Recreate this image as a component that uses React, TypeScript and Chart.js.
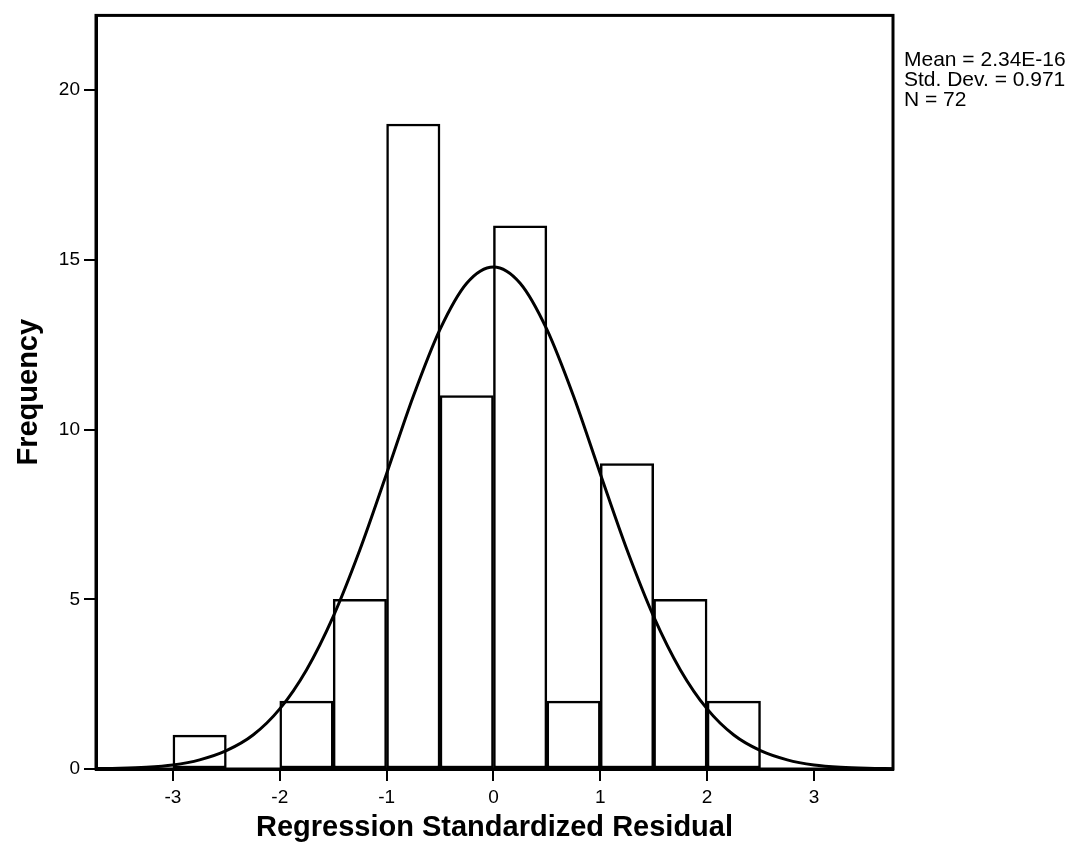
import React, { useEffect, useRef } from "react";
import { Chart, registerables } from "chart.js";

Chart.register(...registerables);

// Histogram bins (width 0.5) — centres and counts
const binCenters = [-2.75, -2.25, -1.75, -1.25, -0.75, -0.25, 0.25, 0.75, 1.25, 1.75, 2.25, 2.75];
const frequencies = [1, 0, 2, 5, 19, 11, 16, 2, 9, 5, 2, 0];

// Normal curve
const curveX = [-3.75, -3.5, -3.25, -3, -2.75, -2.5, -2.25, -2, -1.75, -1.5, -1.25, -1, -0.75, -0.5, -0.25, 0,
  0.25, 0.5, 0.75, 1, 1.25, 1.5, 1.75, 2, 2.25, 2.5, 2.75, 3, 3.25, 3.5, 3.75];
const curveY = [0.01, 0.02, 0.05, 0.12, 0.27, 0.54, 1.0, 1.77, 2.92, 4.49, 6.46, 8.7, 10.98, 12.95, 14.31, 14.79,
  14.31, 12.95, 10.98, 8.7, 6.46, 4.49, 2.92, 1.77, 1.0, 0.54, 0.27, 0.12, 0.05, 0.02, 0.01];

const xTickValues = [-3, -2, -1, 0, 1, 2, 3];
const yTickValues = [0, 5, 10, 15, 20];

const xTitle = "Regression Standardized Residual";
const yTitle = "Frequency";
const statsLines = ["Mean = 2.34E-16", "Std. Dev. = 0.971", "N = 72"];

const FONT = "'Liberation Sans', Arial, sans-serif";

export default function App() {
  const ref = useRef<HTMLCanvasElement | null>(null);

  useEffect(() => {
    if (!ref.current) return;

    const textPlugin = {
      id: "textAndFrame",
      afterDraw(chart: any) {
        const { ctx, chartArea } = chart;
        const { left, right, top, bottom } = chartArea;
        ctx.save();
        // frame
        ctx.strokeStyle = "#000";
        ctx.lineWidth = 3;
        ctx.strokeRect(left, top, right - left, bottom - top);
        ctx.fillStyle = "#000";
        // x title
        ctx.font = `bold 29px ${FONT}`;
        ctx.textAlign = "center";
        ctx.textBaseline = "middle";
        ctx.fillText(xTitle, (left + right) / 2, 828);
        // y title
        ctx.save();
        ctx.translate(29, (top + bottom) / 2);
        ctx.rotate(-Math.PI / 2);
        ctx.fillText(yTitle, 0, 0);
        ctx.restore();
        // stats
        ctx.font = `21px ${FONT}`;
        ctx.textAlign = "left";
        statsLines.forEach((s, i) => ctx.fillText(s, right + 11, 60 + i * 20));
        ctx.restore();
      },
    };

    const chart = new Chart(ref.current, {
      type: "bar",
      data: {
        datasets: [
          {
            type: "line",
            data: curveX.map((x, i) => ({ x, y: curveY[i] })),
            borderColor: "#000",
            borderWidth: 3,
            pointRadius: 0,
            fill: false,
            cubicInterpolationMode: "monotone",
            order: 0,
          } as any,
          {
            type: "bar",
            data: binCenters.map((x, i) => ({ x, y: frequencies[i] })),
            backgroundColor: "#fff",
            borderColor: "#000",
            borderWidth: 2.5,
            borderSkipped: false,
            barPercentage: 1,
            categoryPercentage: 1,
            order: 1,
          } as any,
        ],
      },
      options: {
        responsive: false,
        devicePixelRatio: 1,
        animation: false,
        layout: { padding: { left: 0, top: 11, right: 184, bottom: 0 } },
        plugins: { legend: { display: false }, tooltip: { enabled: false } },
        scales: {
          x: {
            type: "linear",
            min: -3.72,
            max: 3.74,
            offset: false,
            afterFit: (s: any) => { s.height = 88; },
            afterBuildTicks: (s: any) => { s.ticks = xTickValues.map((v) => ({ value: v })); },
            grid: { drawOnChartArea: false, drawTicks: true, tickLength: 12, color: "#000", lineWidth: 2, offset: false },
            border: { color: "#000", width: 3 },
            ticks: { color: "#000", font: { family: FONT, size: 19 }, padding: 5, maxRotation: 0 },
          },
          y: {
            type: "linear",
            min: 0,
            max: 22.2,
            afterFit: (s: any) => { s.width = 96; },
            afterBuildTicks: (s: any) => { s.ticks = yTickValues.map((v) => ({ value: v })); },
            grid: { drawOnChartArea: false, drawTicks: true, tickLength: 12, color: "#000", lineWidth: 2 },
            border: { color: "#000", width: 3 },
            ticks: { color: "#000", font: { family: FONT, size: 19 }, padding: 4 },
          },
        },
      },
      plugins: [textPlugin],
    } as any);

    return () => chart.destroy();
  }, []);

  return (
    <canvas
      ref={ref}
      width={1077}
      height={857}
      style={{ position: "fixed", left: 0, top: 0, width: 1077, height: 857, background: "#fff" }}
    />
  );
}
